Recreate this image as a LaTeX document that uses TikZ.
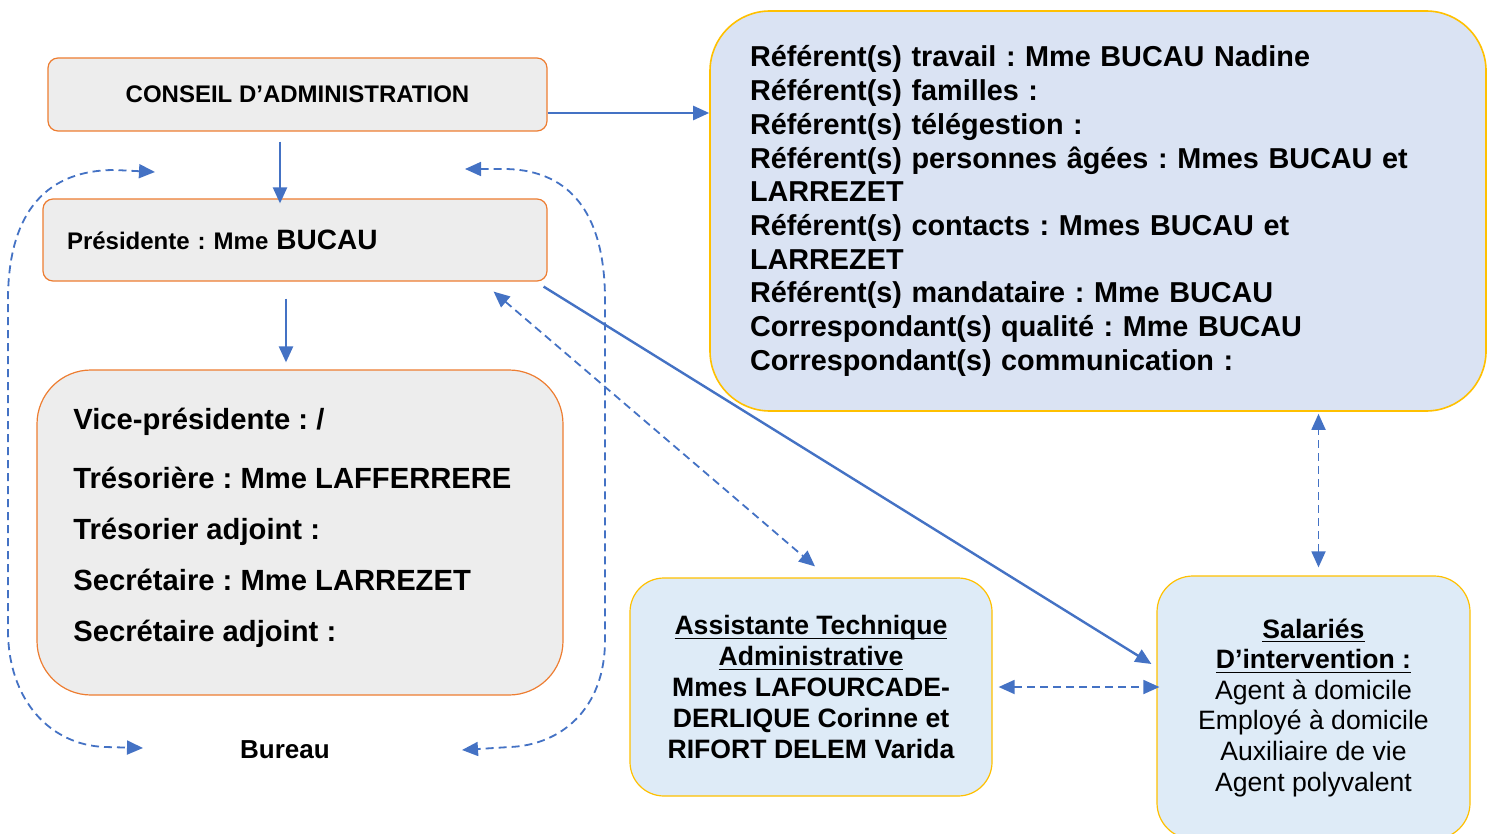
\documentclass[tikz,border=0pt]{standalone}
\usepackage{fontspec}
\setmainfont{Liberation Sans}
\frenchspacing
\usetikzlibrary{arrows.meta}
\newcommand{\ulfix}[1]{\underline{\raisebox{0pt}[\height][0.5pt]{#1}}}
\definecolor{linkblue}{HTML}{4472C4}
\definecolor{boxorange}{HTML}{ED7D31}
\definecolor{boxgray}{HTML}{EDEDED}
\definecolor{boxgold}{HTML}{FFC000}
\definecolor{paleblue}{HTML}{DAE3F3}
\definecolor{lightblue}{HTML}{DEEBF7}
\tikzset{
  graybox/.style={draw=boxorange, fill=boxgray, line width=0.6pt, rounded corners=5pt},
  bluebox/.style={draw=boxgold, fill=lightblue, line width=0.6pt},
  solidarr/.style={draw=linkblue, line width=1.2pt, -{Triangle[length=8pt,width=7pt]}},
  dasharr/.style={draw=linkblue, line width=0.9pt, dash pattern=on 4pt off 2.5pt,
    {Triangle[length=8pt,width=7pt]}-{Triangle[length=8pt,width=7pt]}},
}
\begin{document}
\begin{tikzpicture}[x=0.5pt,y=-0.5pt]
  \useasboundingbox (0,0) rectangle (1487,834);
  \node[graybox, minimum width=249.5pt, minimum height=36.5pt,
    font=\bfseries\fontsize{12}{14}\selectfont] (cons) at (297.5,94.5) {CONSEIL D’ADMINISTRATION};
  \node[graybox, minimum height=41pt, inner xsep=12pt, text width=228pt, align=left,
    font=\bfseries\fontsize{12}{14}\selectfont] (pres) at (295,240)
    {Présidente : Mme {\fontsize{14}{16}\selectfont BUCAU}};
  \node[graybox, rounded corners=27pt, minimum width=263pt, minimum height=162.5pt] (vice) at (300,532.5) {};
  \node[anchor=west, inner xsep=0pt, align=left, font=\bfseries\fontsize{14.6}{25.5}\selectfont] (vicelines) at (73,527.5)
    {Vice-présidente : /\\[4pt]
     Trésorière : Mme LAFFERRERE\\
     Trésorier adjoint :\\
     Secrétaire : Mme LARREZET\\
     Secrétaire adjoint :};
  \node[font=\bfseries\fontsize{13}{15}\selectfont] (bureau) at (285,750) {Bureau};
  \node[draw=boxgold, fill=paleblue, rounded corners=30pt, line width=0.8pt, minimum height=200pt,
    inner xsep=20pt, text width=348pt, align=left,
    font=\bfseries\fontsize{14.4}{16.85}\selectfont] (refs) at (1098,211)
    {Référent(s) travail : Mme BUCAU Nadine\\
     Référent(s) familles :\\
     Référent(s) télégestion :\\
     Référent(s) personnes âgées : Mmes BUCAU et\\
     LARREZET\\
     Référent(s) contacts : Mmes BUCAU et\\
     LARREZET\\
     Référent(s) mandataire : Mme BUCAU\\
     Correspondant(s) qualité : Mme BUCAU\\
     Correspondant(s) communication :};
  \node[bluebox, rounded corners=17pt, minimum width=181pt, minimum height=109pt, align=center,
    font=\bfseries\fontsize{13.3}{15.4}\selectfont] (assist) at (811,687)
    {\ulfix{Assistante Technique}\\
     \ulfix{Administrative}\\
     Mmes LAFOURCADE-\\
     DERLIQUE Corinne et\\
     RIFORT DELEM Varida};
  \node[bluebox, rounded corners=18pt, minimum width=156.5pt, minimum height=131.5pt, align=center,
    font=\fontsize{13.3}{15.3}\selectfont] (sal) at (1313.5,707.5)
    {\textbf{\ulfix{Salariés}}\\
     \textbf{\ulfix{D’intervention :}}\\
     Agent à domicile\\
     Employé à domicile\\
     Auxiliaire de vie\\
     Agent polyvalent};
  \coordinate (lt) at (155,172);
  \coordinate (lb) at (143,748);
  \coordinate (rt) at (465,169);
  \coordinate (rb) at (462,750);
  \draw[solidarr] ([yshift=-9.25pt]cons.east) -- ([yshift=-9.25pt]cons.east -| refs.west);
  \draw[solidarr] ([xshift=-8.75pt,yshift=-5pt]cons.south) -- ([xshift=-8.75pt,yshift=-2.5pt]cons.south |- pres.north);
  \draw[solidarr] ([xshift=-4.5pt,yshift=-8.5pt]pres.south) -- ([xshift=-4.5pt,yshift=3.5pt]pres.south |- vice.north);
  \draw[solidarr] ([xshift=-2pt,yshift=-2.5pt]pres.south east) -- ([xshift=-2.5pt,yshift=21.75pt]sal.west);
  \draw[dasharr] ([xshift=-27pt,yshift=-5pt]pres.south east) -- ([xshift=2pt,yshift=5.5pt]assist.north);
  \draw[dasharr] ([xshift=3pt]assist.east) -- ([xshift=1.5pt]assist.east -| sal.west);
  \draw[dasharr] ([xshift=2.5pt,yshift=4pt]sal.north) -- ([xshift=2.5pt,yshift=-1pt]sal.north |- refs.south);
  \draw[dasharr] (lt) -- (115,170) .. controls (40,170) and (8,220) .. (8,300) -- (8,630)
    .. controls (8,700) and (50,745) .. (105,747) -- (lb);
  \draw[dasharr] (rt) -- (505,169) .. controls (575,170) and (605,220) .. (605,300) -- (605,640)
    .. controls (605,710) and (560,745) .. (510,747) -- (rb);
\end{tikzpicture}
\end{document}
